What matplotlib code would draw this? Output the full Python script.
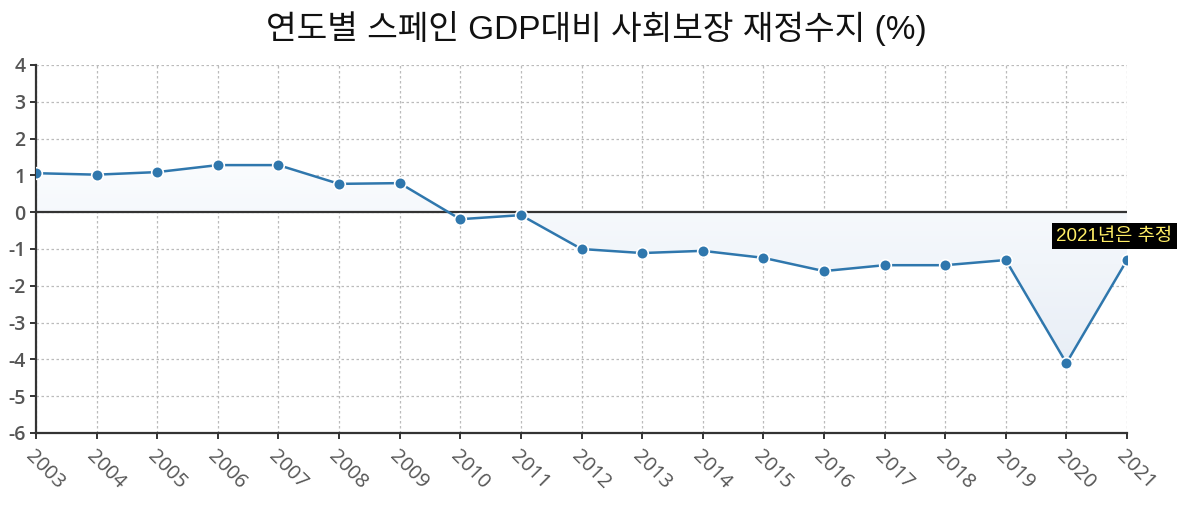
import matplotlib
matplotlib.use("Agg")
import matplotlib.pyplot as plt
import numpy as np
from matplotlib.colors import LinearSegmentedColormap

plt.rcParams['font.family'] = ['Noto Sans CJK KR', 'DejaVu Sans']
plt.rcParams['axes.unicode_minus'] = False

years = list(range(2003, 2022))
balance = [1.06, 1.02, 1.09, 1.28, 1.28, 0.77, 0.79, -0.19, -0.08, -1.0,
           -1.11, -1.05, -1.24, -1.6, -1.44, -1.44, -1.3, -4.1, -1.3]
title = "연도별 스페인 GDP대비 사회보장 재정수지 (%)"
note = "2021년은 추정"

fig = plt.figure(figsize=(11.93, 5.11), dpi=100)
ax = fig.add_axes([36 / 1193, 1 - 433 / 511, (1127 - 36) / 1193, (433 - 65) / 511])

x = np.array(years)
y = np.array(balance)

# area fill with light vertical gradient, clipped to the region between line and zero
poly = ax.fill_between(x, y, 0, facecolor='none', linewidth=0)
cmap = LinearSegmentedColormap.from_list('area', ['#fafcfe', '#e8eef6'])
grad = np.linspace(0, 1, 256).reshape(-1, 1)
img = ax.imshow(grad, cmap=cmap, aspect='auto', origin='upper',
                extent=[x.min(), x.max(), y.min(), y.max()], zorder=1)
img.set_clip_path(poly.get_paths()[0], transform=ax.transData)

ax.axhline(0, color='#333333', linewidth=1.6, zorder=2)
ax.plot(x, y, color='#2f77ad', linewidth=1.8, zorder=3)
ax.scatter(x, y, s=70, color='#2f77ad', edgecolors='white', linewidths=1.2, zorder=4)

ax.set_xlim(2003, 2021)
ax.set_ylim(-6, 4)
ax.set_xticks(years)
ax.set_yticks(range(-6, 5))
ax.grid(True, linestyle=(0, (2, 2)), color='#bbbbbb', linewidth=0.9)
ax.set_axisbelow(True)

for s in ['top', 'right']:
    ax.spines[s].set_visible(False)
for s in ['left', 'bottom']:
    ax.spines[s].set_color('#333333')
    ax.spines[s].set_linewidth(1.6)

ax.tick_params(axis='both', colors='#333333', labelcolor='#555555', length=4, width=1.4)
ax.tick_params(axis='x', pad=6)
for lab in ax.get_xticklabels():
    lab.set_fontfamily('Open Sans')
    lab.set_fontsize(14.5)
    lab.set_rotation(-45)
    lab.set_ha('left')
    lab.set_va('top')
    lab.set_rotation_mode('anchor')
for lab in ax.get_yticklabels():
    lab.set_fontfamily('Open Sans')
    lab.set_fontsize(14)
    lab.set_fontweight('semibold')

ax.text(2021.75, -0.65, note, ha='right', va='center', fontsize=13.5, color='#ffee66',
        family=['Liberation Sans', 'Noto Sans CJK KR'],
        bbox=dict(boxstyle='square,pad=0.22', facecolor='black', edgecolor='none'),
        clip_on=False, zorder=5)

fig.text(0.5, 1 - 28 / 511, title, ha='center', va='center', fontsize=24, color='#111111',
         family=['Liberation Sans', 'Noto Sans CJK KR'])

fig.savefig('out.png', dpi=100)
